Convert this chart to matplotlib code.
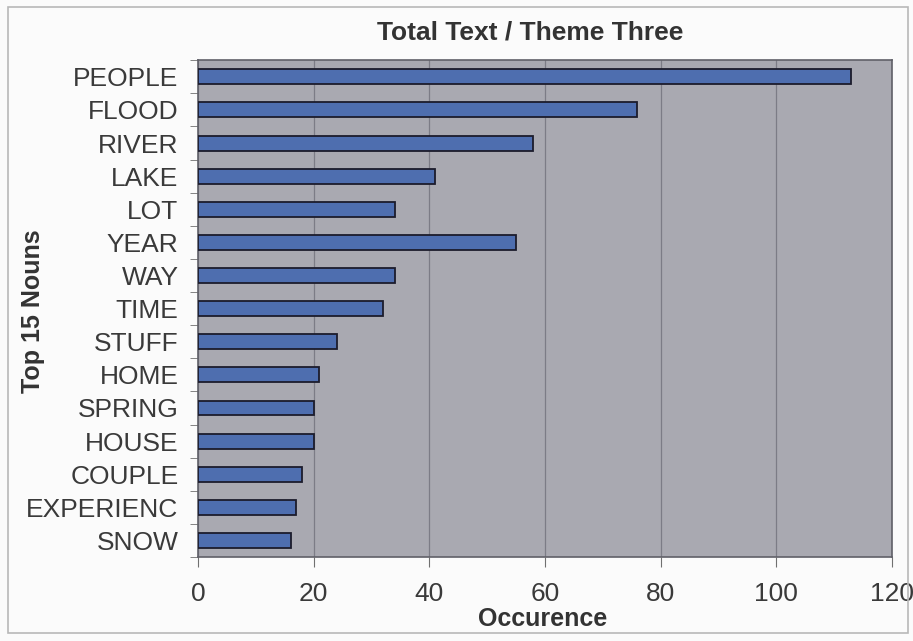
import numpy as np
import matplotlib.pyplot as plt
from matplotlib.patches import Rectangle
from matplotlib.ticker import FixedLocator

nouns = ['PEOPLE', 'FLOOD', 'RIVER', 'LAKE', 'LOT', 'YEAR', 'WAY', 'TIME',
         'STUFF', 'HOME', 'SPRING', 'HOUSE', 'COUPLE', 'EXPERIENC', 'SNOW']
counts = [113, 76, 58, 41, 34, 55, 34, 32, 24, 21, 20, 20, 18, 17, 16]
xticks = [0, 20, 40, 60, 80, 100, 120]

plt.rcParams['font.family'] = ['Liberation Sans', 'DejaVu Sans']

fig = plt.figure(figsize=(9.13, 6.41), dpi=100)
fig.patch.set_facecolor('#fbfbfb')
fig.add_artist(Rectangle((0.009, 0.012), 0.985, 0.977, transform=fig.transFigure,
                         fill=False, edgecolor='#b8b8b8', linewidth=1.2))

ax = fig.add_axes([0.2169, 0.131, 0.7600, 0.775])
ax.set_facecolor('#a9a9b1')

y = np.arange(len(nouns))
ax.barh(y, counts, height=0.45, color='#4e6eaf', edgecolor='#1c1c2c',
        linewidth=1.3, zorder=3)

ax.set_xlim(0, 120)
ax.set_ylim(len(nouns) - 0.5, -0.5)
ax.set_xticks(xticks)
ax.set_xticklabels([str(t) for t in xticks], fontsize=19, color='#3a3a3a')
ax.set_yticks(y)
ax.set_yticklabels(nouns, fontsize=19, color='#3a3a3a')
ax.yaxis.set_minor_locator(FixedLocator(np.arange(len(nouns) + 1) - 0.5))
ax.tick_params(axis='y', which='major', length=0, pad=14)
ax.tick_params(axis='y', which='minor', length=6, color='#707070')
ax.tick_params(axis='x', length=7, color='#707070', pad=11)

ax.grid(axis='x', color='#7c7c86', linewidth=0.9, zorder=1)
for s in ax.spines.values():
    s.set_color('#606068')
    s.set_linewidth(1.2)

fig.text(530 / 913, 1 - 32 / 641, 'Total Text / Theme Three', fontsize=19,
         fontweight='bold', color='#333333', ha='center', va='center')
fig.text(543 / 913, 1 - 619 / 641, 'Occurence', fontsize=18,
         fontweight='bold', color='#333333', ha='center', va='center')
fig.text(33 / 913, 1 - 311 / 641, 'Top 15 Nouns', fontsize=18, rotation=90,
         fontweight='bold', color='#333333', ha='center', va='center')

fig.savefig('out.png', dpi=100, facecolor=fig.get_facecolor())
